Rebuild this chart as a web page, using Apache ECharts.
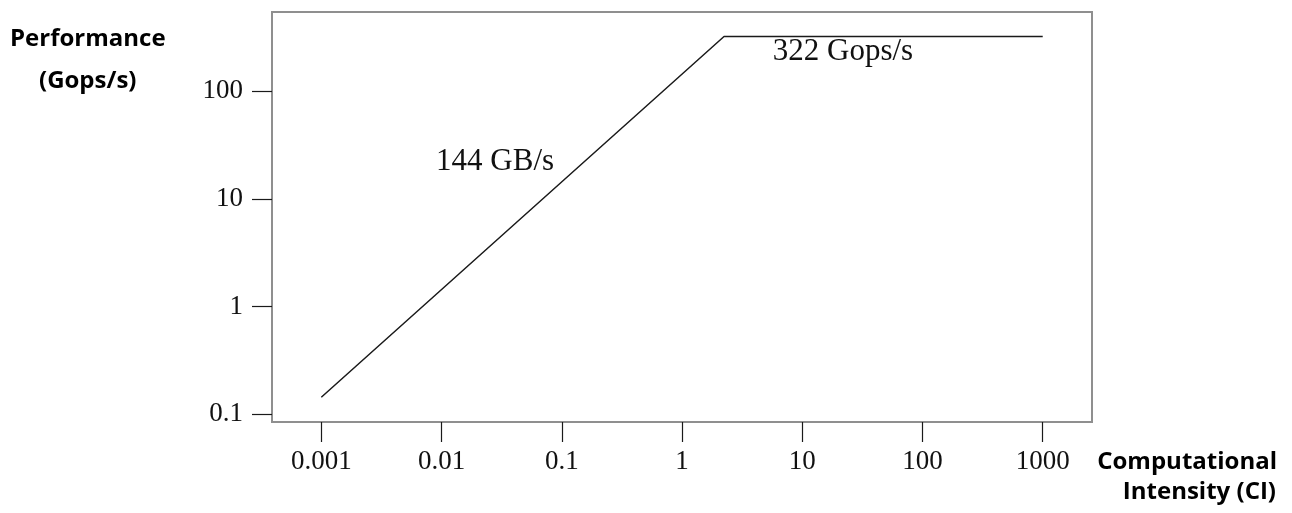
<!DOCTYPE html>
<html>
<head>
<meta charset="utf-8">
<style>
  html, body { margin: 0; padding: 0; background: #fff; }
  #chart { width: 1292px; height: 513px; }
</style>
<script src="https://cdn.jsdelivr.net/npm/echarts@6/dist/echarts.min.js"></script>
</head>
<body>
<div id="chart"></div>
<script>
// roofline: memory bound slope, then compute ceiling
const ciPoints = [0.001, 2.236, 1000];
const perfPoints = [0.144, 322, 322];
const xTicks = [0.001, 0.01, 0.1, 1, 10, 100, 1000];
const yTicks = [0.1, 1, 10, 100];
const bandwidthLabel = '144 GB/s';
const peakLabel = '322 Gops/s';
// where the two annotations sit, in data units
const bandwidthAt = [0.0279, 22.2];
const peakAt = [21.8, 230];

const tickFont = 'Liberation Serif';
const titleFont = '"Open Sans"';
const ink = '#1a1a1a';

const chart = echarts.init(document.getElementById('chart'));

const fmt = (v) => {
  if (v >= 1) return String(Math.round(v));
  return String(parseFloat(v.toPrecision(3)));
};

const option = {
  backgroundColor: '#fff',
  animation: false,
  grid: {
    show: true,
    left: 272,
    right: 200,
    top: 12,
    bottom: 91,
    borderColor: '#8f8f8f',
    borderWidth: 2,
  },
  xAxis: {
    type: 'log',
    logBase: 10,
    min: 0.000389,
    max: 2570,
    axisLine: { show: false },
    splitLine: { show: false },
    minorTick: { show: false },
    axisTick: {
      show: true,
      inside: false,
      length: 20,
      customValues: xTicks,
      lineStyle: { color: ink, width: 1.2 },
    },
    axisLabel: {
      show: true,
      margin: 26,
      customValues: xTicks,
      formatter: fmt,
      color: '#111',
      fontFamily: tickFont,
      fontSize: 27,
    },
  },
  yAxis: {
    type: 'log',
    logBase: 10,
    min: 0.0848,
    max: 543,
    axisLine: { show: false },
    splitLine: { show: false },
    minorTick: { show: false },
    axisTick: {
      show: true,
      inside: false,
      length: 20,
      customValues: yTicks,
      lineStyle: { color: ink, width: 1.2 },
    },
    axisLabel: {
      show: true,
      margin: 29,
      customValues: yTicks,
      formatter: fmt,
      color: '#111',
      fontFamily: tickFont,
      fontSize: 27,
    },
  },
  series: [{
    type: 'line',
    data: ciPoints.map((c, i) => [c, perfPoints[i]]),
    symbol: 'none',
    lineStyle: { color: ink, width: 1.5 },
    markPoint: {
      symbol: 'circle',
      symbolSize: 0,
      label: {
        show: true,
        position: 'inside',
        color: '#111',
        fontFamily: tickFont,
        fontSize: 31,
        formatter: (p) => p.name,
      },
      data: [
        { name: bandwidthLabel, coord: bandwidthAt },
        { name: peakLabel, coord: peakAt },
      ],
    },
  }],
  graphic: [
    {
      type: 'text', left: 10, top: 27,
      style: { text: 'Performance', font: 'bold 24px ' + titleFont, fill: '#000' },
    },
    {
      type: 'text', left: 39, top: 69,
      style: { text: '(Gops/s)', font: 'bold 24px ' + titleFont, fill: '#000' },
    },
    {
      type: 'text', right: 15, top: 450,
      style: { text: 'Computational', font: 'bold 24px ' + titleFont, fill: '#000' },
    },
    {
      type: 'text', right: 16, top: 480,
      style: { text: 'Intensity (CI)', font: 'bold 24px ' + titleFont, fill: '#000' },
    },
  ],
};

chart.setOption(option);
</script>
</body>
</html>
